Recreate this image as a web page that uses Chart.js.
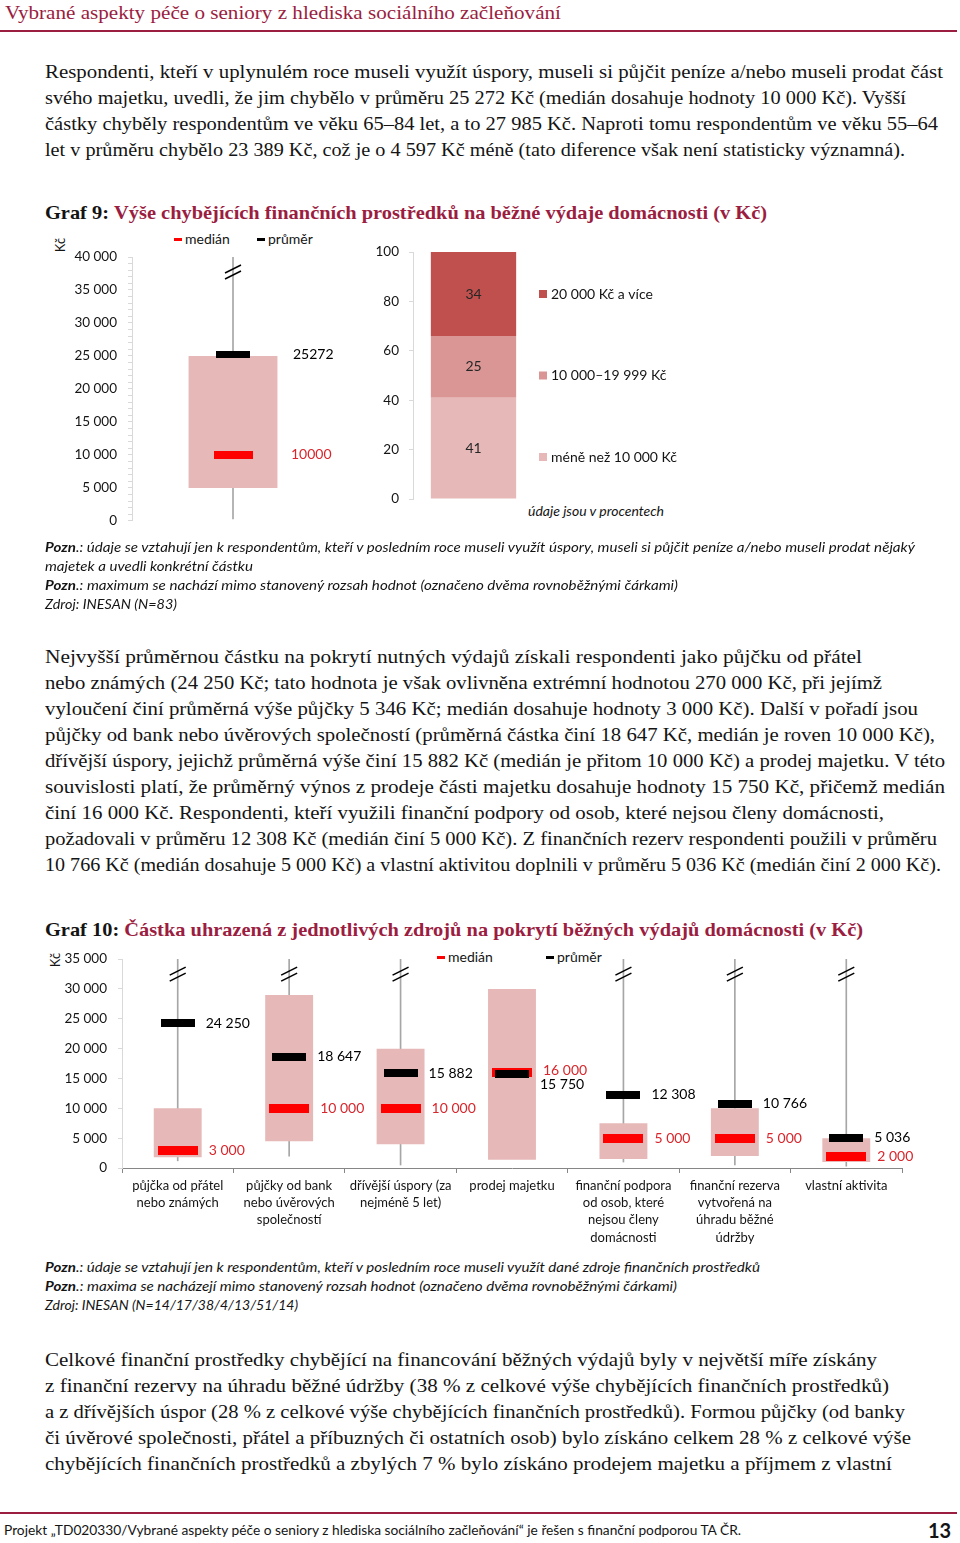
<!DOCTYPE html>
<html lang="cs">
<head>
<meta charset="utf-8">
<title>Vybrané aspekty péče o seniory – Graf 9 a 10</title>
<script src="https://cdn.jsdelivr.net/npm/chart.js@4.4.1/dist/chart.umd.min.js"></script>
<style>
  html, body { margin: 0; padding: 0; background: #fff; }
  body { width: 960px; height: 1543px; position: relative; overflow: hidden; }
  .abs { position: absolute; white-space: nowrap; }
  .serif { font-family: "Liberation Serif", "DejaVu Serif", serif; font-size: 19.5px; color: #141414; }
  .ln { height: 26px; line-height: 26px; white-space: nowrap; }
  .ln span, .fit { display: inline-block; transform-origin: 0 50%; }
  .maroon { color: #9b1d3f; }
  .note { font-family: Lato, "Open Sans", sans-serif; font-style: italic; font-size: 13.5px; color: #141414; }
  .note .ln { height: 19px; line-height: 19px; }
  .sans { font-family: Lato, "Open Sans", sans-serif; font-size: 14px; color: #141414; line-height: 18px; }
  .rule { position: absolute; left: 0; width: 957px; height: 2px; background: #9b1d3f; }
  .dash { display: inline-block; width: 8px; height: 3px; vertical-align: middle; margin-right: 3px; position: relative; top: -1px; }
  canvas { position: absolute; }
</style>
</head>
<body>

<div class="abs serif maroon" style="left:5px; top:2px; line-height:22px;"><span class="fit" data-r="561">Vybrané aspekty péče o seniory z hlediska sociálního začleňování</span></div>
<div class="rule" style="top:30px;"></div>

<div class="abs serif" style="left:45px; top:59px;">
  <div class="ln" data-r="943"><span>Respondenti, kteří v uplynulém roce museli využít úspory, museli si půjčit peníze a/nebo museli prodat část</span></div>
  <div class="ln" data-r="906"><span>svého majetku, uvedli, že jim chybělo v průměru 25 272 Kč (medián dosahuje hodnoty 10 000 Kč). Vyšší</span></div>
  <div class="ln" data-r="938"><span>částky chyběly respondentům ve věku 65–84 let, a to 27 985 Kč. Naproti tomu respondentům ve věku 55–64</span></div>
  <div class="ln" data-r="905"><span>let v průměru chybělo 23 389 Kč, což je o 4 597 Kč méně (tato diference však není statisticky významná).</span></div>
</div>

<div class="abs serif" style="left:45px; top:200px; font-weight:bold;">
  <div class="ln" data-r="767"><span>Graf 9: <span class="maroon" style="transform:none">Výše chybějících finančních prostředků na běžné výdaje domácnosti (v Kč)</span></span></div>
</div>

<!-- graf 9 popisky mimo plátno -->
<div class="abs sans" style="left:53px; top:236px; font-size:13px; transform:rotate(-90deg); transform-origin:50% 50%;">Kč</div>
<div class="abs sans" style="left:174px; top:230px;"><span class="dash" style="background:#ff0000"></span>medián</div>
<div class="abs sans" style="left:257px; top:230px;"><span class="dash" style="background:#000"></span>průměr</div>
<div class="abs sans" style="left:528px; top:502px; font-style:italic;">údaje jsou v procentech</div>

<canvas id="graf9box" width="315" height="312" style="left:45px; top:228px;"></canvas>
<canvas id="graf9podil" width="330" height="300" style="left:360px; top:228px;"></canvas>

<div class="abs note" style="left:45px; top:538px;">
  <div class="ln" data-r="915"><span><b>Pozn</b>.: údaje se vztahují jen k respondentům, kteří v posledním roce museli využít úspory, museli si půjčit peníze a/nebo museli prodat nějaký</span></div>
  <div class="ln" data-r="253"><span>majetek a uvedli konkrétní částku</span></div>
  <div class="ln" data-r="678"><span><b>Pozn</b>.: maximum se nachází mimo stanovený rozsah hodnot (označeno dvěma rovnoběžnými čárkami)</span></div>
  <div class="ln" data-r="177"><span>Zdroj: INESAN (N=83)</span></div>
</div>

<div class="abs serif" style="left:45px; top:644px;">
  <div class="ln" data-r="862"><span>Nejvyšší průměrnou částku na pokrytí nutných výdajů získali respondenti jako půjčku od přátel</span></div>
  <div class="ln" data-r="882"><span>nebo známých (24 250 Kč; tato hodnota je však ovlivněna extrémní hodnotou 270 000 Kč, při jejímž</span></div>
  <div class="ln" data-r="918"><span>vyloučení činí průměrná výše půjčky 5 346 Kč; medián dosahuje hodnoty 3 000 Kč). Další v pořadí jsou</span></div>
  <div class="ln" data-r="935"><span>půjčky od bank nebo úvěrových společností (průměrná částka činí 18 647 Kč, medián je roven 10 000 Kč),</span></div>
  <div class="ln" data-r="945"><span>dřívější úspory, jejichž průměrná výše činí 15 882 Kč (medián je přitom 10 000 Kč) a prodej majetku. V této</span></div>
  <div class="ln" data-r="945"><span>souvislosti platí, že průměrný výnos z prodeje části majetku dosahuje hodnoty 15 750 Kč, přičemž medián</span></div>
  <div class="ln" data-r="884"><span>činí 16 000 Kč. Respondenti, kteří využili finanční podpory od osob, které nejsou členy domácnosti,</span></div>
  <div class="ln" data-r="937"><span>požadovali v průměru 12 308 Kč (medián činí 5 000 Kč). Z finančních rezerv respondenti použili v průměru</span></div>
  <div class="ln" data-r="941"><span>10 766 Kč (medián dosahuje 5 000 Kč) a vlastní aktivitou doplnili v průměru 5 036 Kč (medián činí 2 000 Kč).</span></div>
</div>

<div class="abs serif" style="left:45px; top:917px; font-weight:bold;">
  <div class="ln" data-r="863"><span>Graf 10: <span class="maroon" style="transform:none">Částka uhrazená z jednotlivých zdrojů na pokrytí běžných výdajů domácnosti (v Kč)</span></span></div>
</div>

<div class="abs sans" style="left:48px; top:951px; font-size:13px; transform:rotate(-90deg); transform-origin:50% 50%;">Kč</div>
<div class="abs sans" style="left:437px; top:948px;"><span class="dash" style="background:#ff0000"></span>medián</div>
<div class="abs sans" style="left:546px; top:948px;"><span class="dash" style="background:#000"></span>průměr</div>

<canvas id="graf10" width="880" height="310" style="left:45px; top:940px;"></canvas>

<div class="abs note" style="left:45px; top:1258px;">
  <div class="ln" data-r="760"><span><b>Pozn</b>.: údaje se vztahují jen k respondentům, kteří v posledním roce museli využít dané zdroje finančních prostředků</span></div>
  <div class="ln" data-r="677"><span><b>Pozn</b>.: maxima se nacházejí mimo stanovený rozsah hodnot (označeno dvěma rovnoběžnými čárkami)</span></div>
  <div class="ln" data-r="298"><span>Zdroj: INESAN (N=14/17/38/4/13/51/14)</span></div>
</div>

<div class="abs serif" style="left:45px; top:1347px;">
  <div class="ln" data-r="877"><span>Celkové finanční prostředky chybějící na financování běžných výdajů byly v největší míře získány</span></div>
  <div class="ln" data-r="889"><span>z finanční rezervy na úhradu běžné údržby (38 % z celkové výše chybějících finančních prostředků)</span></div>
  <div class="ln" data-r="905"><span>a z dřívějších úspor (28 % z celkové výše chybějících finančních prostředků). Formou půjčky (od banky</span></div>
  <div class="ln" data-r="911"><span>či úvěrové společnosti, přátel a příbuzných či ostatních osob) bylo získáno celkem 28 % z celkové výše</span></div>
  <div class="ln" data-r="892"><span>chybějících finančních prostředků a zbylých 7 % bylo získáno prodejem majetku a příjmem z vlastní</span></div>
</div>

<div class="rule" style="top:1512px;"></div>
<div class="abs sans" style="left:4px; top:1521px; font-size:14px;"><span class="fit" data-r="741">Projekt „TD020330/Vybrané aspekty péče o seniory z hlediska sociálního začleňování“ je řešen s finanční podporou TA ČR.</span></div>
<div class="abs sans maroon" style="left:928px; top:1518px; font-size:20px; font-weight:bold; line-height:24px;">13</div>

<script>
// ---------- data: graf 9 ----------
const graf9Kategorie = ['chybějící prostředky'];
const graf9BoxDolni = [5000];
const graf9BoxHorni = [25000];
const graf9VousDolni = [300];
const graf9VousHorni = [40000];   // maximum mimo rozsah osy
const graf9Prumer = [25272];
const graf9Median = [10000];
const graf9Osa = [0, 5000, 10000, 15000, 20000, 25000, 30000, 35000, 40000];

const graf9Skupiny = ['méně než 10 000 Kč', '10 000–19 999 Kč', '20 000 Kč a více'];
const graf9Podily = [41, 25, 34];
const graf9Barvy = ['#e6b9b8', '#d99694', '#c0504d'];

// ---------- data: graf 10 ----------
const graf10Zdroje = [
  ['půjčka od přátel', 'nebo známých'],
  ['půjčky od bank', 'nebo úvěrových', 'společností'],
  ['dřívější úspory (za', 'nejméně 5 let)'],
  ['prodej majetku'],
  ['finanční podpora', 'od osob, které', 'nejsou členy', 'domácnosti'],
  ['finanční rezerva', 'vytvořená na', 'úhradu běžné', 'údržby'],
  ['vlastní aktivita']
];
const graf10BoxDolni = [1800, 4500, 4000, 1400, 1500, 2000, 1000];
const graf10BoxHorni = [10000, 29000, 20000, 30000, 7500, 10000, 5000];
const graf10VousDolni = [1200, 2000, 500, null, 1000, 500, 300];
const graf10VousHorni = [35000, 35000, 35000, null, 35000, 35000, 35000];
const graf10Prumer = [24250, 18647, 15882, 15750, 12308, 10766, 5036];
const graf10Median = [3000, 10000, 10000, 16000, 5000, 5000, 2000];
const graf10Osa = [0, 5000, 10000, 15000, 20000, 25000, 30000, 35000];

// ---------- fit text lines to the page ----------
function napasuj() {
  document.querySelectorAll('[data-r]').forEach(function (el) {
    const span = el.matches('span') ? el : el.querySelector('span');
    const r = span.getBoundingClientRect();
    const cil = parseFloat(el.dataset.r) - r.left;
    if (r.width > 0) span.style.transform = 'scaleX(' + (cil / r.width).toFixed(4) + ')';
  });
}
napasuj();

// ---------- Chart.js ----------
Chart.defaults.font.family = 'Lato, "Open Sans", sans-serif';
Chart.defaults.color = '#141414';
Chart.defaults.animation = false;
Chart.defaults.plugins.legend.display = false;
Chart.defaults.plugins.tooltip.enabled = false;

const RED = '#ff0000';
const RED_TEXT = '#d9262c';
const BOX = '#e6b9b8';
const LIGHT = '#d9d9d9';

function znacka(w, h, barva) {
  const c = document.createElement('canvas');
  c.width = w;
  c.height = h;
  const g = c.getContext('2d');
  g.fillStyle = barva;
  g.fillRect(0, 0, w, h);
  return c;
}

function mezery(v) {
  return String(v).replace(/\B(?=(\d{3})+(?!\d))/g, ' ');
}

function spoj(a, b) {
  return a.map(function (v, i) { return v === null ? null : [v, b[i]]; });
}

// labels for mean / median, break marks on whiskers
const boxPlugin = {
  id: 'boxPopisky',
  afterDatasetsDraw(chart, args, o) {
    const ctx = chart.ctx;
    const prumery = chart.getDatasetMeta(0).data;
    const mediany = chart.getDatasetMeta(1).data;
    const vousy = chart.getDatasetMeta(3).data;
    const dPrumer = chart.data.datasets[0].data;
    const dMedian = chart.data.datasets[1].data;
    const dVous = chart.data.datasets[3].data;
    ctx.save();
    ctx.font = o.font;
    ctx.textBaseline = 'middle';
    ctx.textAlign = 'left';
    prumery.forEach(function (p, i) {
      const m = mediany[i];
      let yP = p.y, yM = m.y;
      if (Math.abs(yP - yM) < 12) {
        if (dMedian[i] > dPrumer[i]) { yM -= 2; yP += 10; } else { yP -= 2; yM += 10; }
      }
      ctx.fillStyle = '#000';
      ctx.fillText(o.format(dPrumer[i]), p.x + o.dxPrumer, yP);
      ctx.fillStyle = RED_TEXT;
      ctx.fillText(o.format(dMedian[i]), m.x + o.dxMedian, yM);
    });
    // two parallel marks where the maximum leaves the axis range
    ctx.strokeStyle = '#000';
    ctx.lineWidth = 1.5;
    const y0 = chart.chartArea.top + 15;
    vousy.forEach(function (v, i) {
      if (dVous[i] === null) return;
      [-3, 3].forEach(function (d) {
        ctx.beginPath();
        ctx.moveTo(v.x - 8, y0 + 4 + d);
        ctx.lineTo(v.x + 8, y0 - 4 + d);
        ctx.stroke();
      });
    });
    ctx.restore();
  }
};

function boxDatasets(prumer, median, boxDolni, boxHorni, vousDolni, vousHorni, sirka, mPrumer, mMedian) {
  return [
    { type: 'line', data: prumer, showLine: false, pointStyle: mPrumer, order: 0 },
    { type: 'line', data: median, showLine: false, pointStyle: mMedian, order: 1 },
    { type: 'bar', data: spoj(boxDolni, boxHorni), backgroundColor: BOX, grouped: false,
      barPercentage: sirka, categoryPercentage: 1, order: 2 },
    { type: 'bar', data: spoj(vousDolni, vousHorni), backgroundColor: '#a6a6a6', grouped: false,
      barThickness: 1, order: 3 }
  ];
}

// graf 9 – box
new Chart(document.getElementById('graf9box'), {
  type: 'bar',
  data: {
    labels: graf9Kategorie,
    datasets: boxDatasets(graf9Prumer, graf9Median, graf9BoxDolni, graf9BoxHorni,
      graf9VousDolni, graf9VousHorni, 0.44, znacka(34, 7, '#000'), znacka(39, 8, RED))
  },
  options: {
    responsive: false,
    layout: { padding: { top: 29, bottom: 8, right: 26, left: 0 } },
    scales: {
      x: { display: false },
      y: {
        min: graf9Osa[0], max: graf9Osa[graf9Osa.length - 1],
        afterFit: function (s) { s.width = 87; },
        afterBuildTicks: function (s) {
          const t = [];
          for (let v = graf9Osa[0]; v <= graf9Osa[graf9Osa.length - 1]; v += 1000) t.push({ value: v });
          s.ticks = t;
        },
        ticks: {
          autoSkip: false, padding: 11, font: { size: 13.5 }, color: '#141414',
          callback: function (v) { return graf9Osa.includes(v) ? mezery(v) : ''; }
        },
        grid: { drawOnChartArea: false, tickLength: 4, color: LIGHT },
        border: { color: LIGHT }
      }
    },
    plugins: {
      boxPopisky: { font: '14px Lato, sans-serif', dxPrumer: 60, dxMedian: 58, format: String }
    }
  },
  plugins: [boxPlugin]
});

// graf 9 – podíly
new Chart(document.getElementById('graf9podil'), {
  type: 'bar',
  data: {
    labels: [''],
    datasets: graf9Skupiny.map(function (s, i) {
      return { label: s, data: [graf9Podily[i]], backgroundColor: graf9Barvy[i],
        barPercentage: 0.705, categoryPercentage: 1 };
    })
  },
  options: {
    responsive: false,
    layout: { padding: { top: 24, bottom: 29, right: 156, left: 0 } },
    scales: {
      x: { display: false, stacked: true },
      y: {
        stacked: true, min: 0, max: 100,
        afterFit: function (s) { s.width = 53; },
        ticks: { stepSize: 20, padding: 10, font: { size: 13.5 }, color: '#141414' },
        grid: { drawOnChartArea: false, tickLength: 4, color: LIGHT },
        border: { color: LIGHT }
      }
    }
  },
  plugins: [{
    id: 'podilPopisky',
    afterDatasetsDraw(chart) {
      const ctx = chart.ctx;
      ctx.save();
      ctx.font = '14px Lato, sans-serif';
      ctx.textBaseline = 'middle';
      ctx.textAlign = 'center';
      ctx.fillStyle = '#262626';
      chart.data.datasets.forEach(function (ds, i) {
        const el = chart.getDatasetMeta(i).data[0];
        ctx.fillText(String(ds.data[0]), el.x, (el.y + el.base) / 2);
      });
      // legend beside the bar, top item first
      ctx.textAlign = 'left';
      const x = chart.chartArea.right + 5;
      const n = chart.data.datasets.length;
      for (let k = 0; k < n; k++) {
        const i = n - 1 - k;
        const y = 66 + k * 81.5;
        ctx.fillStyle = graf9Barvy[i];
        ctx.fillRect(x, y - 4, 8, 8);
        ctx.fillStyle = '#141414';
        ctx.fillText(chart.data.datasets[i].label, x + 12, y);
      }
      ctx.restore();
    }
  }]
});

// graf 10
new Chart(document.getElementById('graf10'), {
  type: 'bar',
  data: {
    labels: graf10Zdroje,
    datasets: boxDatasets(graf10Prumer, graf10Median, graf10BoxDolni, graf10BoxHorni,
      graf10VousDolni, graf10VousHorni, 0.43, znacka(34, 8, '#000'), znacka(40, 9, RED))
  },
  options: {
    responsive: false,
    layout: { padding: { top: 17, bottom: 0, right: 23, left: 0 } },
    scales: {
      x: {
        afterFit: function (s) { s.height = 82; },
        ticks: { autoSkip: false, maxRotation: 0, padding: 4, font: { size: 13, lineHeight: 1.33 }, color: '#141414' },
        grid: { offset: true, drawOnChartArea: false, tickLength: 5, color: '#868686' },
        border: { color: '#868686' }
      },
      y: {
        min: graf10Osa[0], max: graf10Osa[graf10Osa.length - 1],
        afterFit: function (s) { s.width = 77; },
        ticks: { stepSize: 5000, padding: 11, font: { size: 13.5 }, color: '#141414', callback: mezery },
        grid: { drawOnChartArea: false, tickLength: 4, color: LIGHT },
        border: { color: LIGHT }
      }
    },
    plugins: {
      boxPopisky: { font: '14px Lato, sans-serif', dxPrumer: 28, dxMedian: 31, format: mezery }
    }
  },
  plugins: [boxPlugin]
});
</script>
</body>
</html>
